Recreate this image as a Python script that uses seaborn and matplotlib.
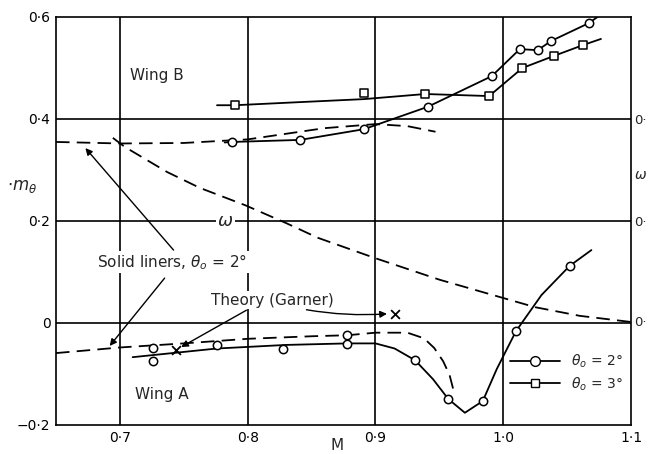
import matplotlib
matplotlib.use("Agg")
import matplotlib.pyplot as plt
import seaborn as sns
from matplotlib.lines import Line2D

# ---------------- data ----------------
# Wing B, theta0 = 2 deg (circles), line through points
b2_M = [0.782, 0.788, 0.841, 0.891, 0.941, 0.991, 1.013, 1.027, 1.0375, 1.067, 1.076]
b2_v = [0.354, 0.355, 0.359, 0.380, 0.424, 0.484, 0.537, 0.535, 0.553, 0.588, 0.604]
b2_mk_M = [0.788, 0.841, 0.891, 0.941, 0.991, 1.013, 1.027, 1.0375, 1.067]
b2_mk_v = [0.355, 0.359, 0.380, 0.424, 0.484, 0.537, 0.535, 0.553, 0.588]

# Wing B, theta0 = 3 deg (squares)
b3_M = [0.776, 0.79, 0.84, 0.891, 0.939, 0.989, 1.015, 1.04, 1.0625, 1.0765]
b3_v = [0.427, 0.427, 0.433, 0.439, 0.449, 0.445, 0.500, 0.524, 0.545, 0.557]
b3_mk_M = [0.79, 0.891, 0.939, 0.989, 1.015, 1.04, 1.0625]
b3_mk_v = [0.427, 0.451, 0.449, 0.445, 0.500, 0.524, 0.545]

# Wing B, solid liners (dashed)
bl_M = [0.65, 0.70, 0.75, 0.80, 0.86, 0.90, 0.925, 0.947]
bl_v = [0.355, 0.352, 0.353, 0.360, 0.382, 0.390, 0.386, 0.375]

# omega (dashed)
w_M = [0.6945, 0.704, 0.737, 0.7625, 0.798, 0.830, 0.855, 0.90, 0.95, 1.00, 1.025, 1.06, 1.10]
w_v = [0.363, 0.345, 0.296, 0.265, 0.231, 0.196, 0.167, 0.127, 0.085, 0.049, 0.031, 0.014, 0.002]

# Wing A, theta0 = 2 deg (solid curve)
a2_M = [0.71, 0.776, 0.83, 0.878, 0.90, 0.915, 0.931, 0.945, 0.957, 0.97, 0.984, 0.995, 1.01, 1.03, 1.052, 1.069]
a2_v = [-0.067, -0.050, -0.043, -0.040, -0.040, -0.050, -0.073, -0.110, -0.149, -0.176, -0.153, -0.090, -0.016, 0.055, 0.112, 0.143]
a2_mk_M = [0.726, 0.828, 0.878, 0.931, 0.957, 0.984, 1.01, 1.052]
a2_mk_v = [-0.075, -0.051, -0.041, -0.073, -0.149, -0.153, -0.016, 0.112]

# Wing A, solid liners (dashed)
al_M = [0.65, 0.70, 0.75, 0.80, 0.85, 0.878, 0.90, 0.925, 0.938, 0.946, 0.953, 0.958, 0.961]
al_v = [-0.059, -0.048, -0.040, -0.031, -0.026, -0.024, -0.019, -0.019, -0.030, -0.049, -0.075, -0.102, -0.131]
al_mk_M = [0.726, 0.776, 0.878]
al_mk_v = [-0.049, -0.043, -0.024]

# Theory (Garner) crosses
th_M = [0.744, 0.915]
th_v = [-0.053, 0.018]

x_ticks = [0.7, 0.8, 0.9, 1.0, 1.1]
x_ticklabels = ["0·7", "0·8", "0·9", "1·0", "1·1"]
y_ticks = [-0.2, 0.0, 0.2, 0.4, 0.6]
y_ticklabels = ["−0·2", "0", "0·2", "0·4", "0·6"]
legend_labels = [r"$\theta_o$ = 2°", r"$\theta_o$ = 3°"]

# ---------------- figure ----------------
sns.set_theme(style="white")
plt.rcParams["font.family"] = ["DejaVu Sans"]
plt.rcParams["mathtext.fontset"] = "dejavusans"

fig = plt.figure(figsize=(6.48, 4.54), dpi=100)
ax = fig.add_axes([56/648, 1-425/454, (631-56)/648, (425-17)/454])

K = "black"
lw = 1.3
dash = (7.5, 4)

# grid lines
for xv in [0.7, 0.8, 0.9, 1.0]:
    ax.axvline(xv, color=K, lw=1.2, zorder=1)
for yv in [0.0, 0.2, 0.4]:
    ax.axhline(yv, color=K, lw=1.2, zorder=1)

sns.lineplot(x=b2_M, y=b2_v, sort=False, color=K, lw=lw, ax=ax, zorder=3)
sns.lineplot(x=b3_M, y=b3_v, sort=False, color=K, lw=lw, ax=ax, zorder=3)
sns.lineplot(x=a2_M, y=a2_v, sort=False, color=K, lw=lw, ax=ax, zorder=3)
sns.lineplot(x=bl_M, y=bl_v, sort=False, color=K, lw=lw, ax=ax, zorder=3).lines[-1].set_dashes(dash)
sns.lineplot(x=al_M, y=al_v, sort=False, color=K, lw=lw, ax=ax, zorder=3).lines[-1].set_dashes(dash)
sns.lineplot(x=w_M, y=w_v, sort=False, color=K, lw=lw, ax=ax, zorder=3).lines[-1].set_dashes(dash)

mk = dict(facecolor="white", edgecolor=K, linewidth=1.1, zorder=5)
sns.scatterplot(x=b2_mk_M, y=b2_mk_v, marker="o", s=36, ax=ax, **mk)
sns.scatterplot(x=a2_mk_M, y=a2_mk_v, marker="o", s=36, ax=ax, **mk)
sns.scatterplot(x=al_mk_M, y=al_mk_v, marker="o", s=36, ax=ax, **mk)
sns.scatterplot(x=b3_mk_M, y=b3_mk_v, marker="s", s=36, ax=ax, **mk)
sns.scatterplot(x=th_M, y=th_v, marker="x", s=40, color=K, linewidth=1.3, ax=ax, zorder=5)

ax.set_xlim(0.65, 1.1)
ax.set_ylim(-0.2, 0.6)
ax.set_xticks(x_ticks)
ax.set_xticklabels(x_ticklabels)
ax.set_yticks(y_ticks)
ax.set_yticklabels(y_ticklabels)
ax.tick_params(length=0, labelsize=10, colors=K, pad=4)
ax.set_xlabel("")
ax.set_ylabel("")
for s in ax.spines.values():
    s.set_color(K)
    s.set_linewidth(1.2)
    s.set_visible(True)

# labels
fs = 11
ax.text(0.708, 0.486, "Wing B", fontsize=fs, va="center", ha="left")
ax.text(0.712, -0.141, "Wing A", fontsize=fs, va="center", ha="left")
ax.text(0.741, 0.12, r"Solid liners, $\theta_o$ = 2°", fontsize=fs, va="center", ha="center",
        bbox=dict(facecolor="white", edgecolor="none", pad=1), zorder=6)
ax.text(0.819, 0.045, "Theory (Garner)", fontsize=fs, va="center", ha="center",
        bbox=dict(facecolor="white", edgecolor="none", pad=1), zorder=6)
ax.text(0.7825, 0.2, r"$\omega$", fontsize=13, va="center", ha="center",
        bbox=dict(facecolor="white", edgecolor="none", pad=1), zorder=6)

ap = dict(arrowstyle="-|>", color=K, lw=1.0, mutation_scale=10, shrinkA=0, shrinkB=0)
ax.annotate("", xy=(0.673, 0.343), xytext=(0.742, 0.143), arrowprops=ap, zorder=7)
ax.annotate("", xy=(0.692, -0.045), xytext=(0.735, 0.088), arrowprops=ap, zorder=7)
ax.annotate("", xy=(0.748, -0.047), xytext=(0.799, 0.025), arrowprops=ap, zorder=7)
ax.annotate("", xy=(0.909, 0.018), xytext=(0.846, 0.026),
            arrowprops=dict(ap, connectionstyle="arc3,rad=0.06"), zorder=7)

fig.text(22/648, 1-186/454, r"$\cdot m_\theta$", fontsize=12, ha="center", va="center")
fig.text(337/648, 1-446/454, "M", fontsize=11, ha="center", va="center")
for yy in [120, 222, 323]:
    fig.text(634/648, 1-yy/454, "0·", fontsize=9.5, ha="left", va="center")
fig.text(634/648, 1-175/454, r"$\omega$", fontsize=10, ha="left", va="center")

# legend
handles = [Line2D([], [], color=K, lw=lw, marker="o", markersize=7, markerfacecolor="white", markeredgecolor=K),
           Line2D([], [], color=K, lw=lw, marker="s", markersize=6, markerfacecolor="white", markeredgecolor=K)]
ax.legend(handles, legend_labels, loc="upper left", bbox_to_anchor=(0.78, 0.19),
          frameon=False, handlelength=3.6, fontsize=10, labelspacing=0.35, borderaxespad=0)

fig.savefig("out.png", dpi=100)
